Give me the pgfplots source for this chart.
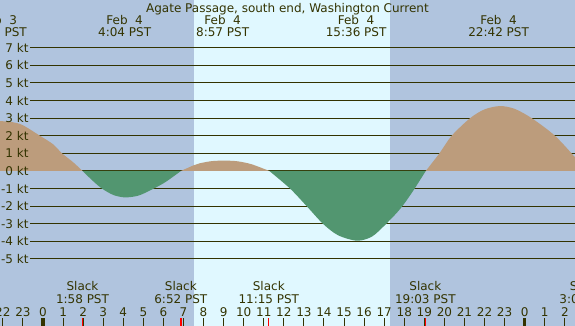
\documentclass[border=0pt]{standalone}
\usepackage{pgfplots}
\pgfplotsset{compat=1.18}
\usepackage{fontspec}
\setmainfont{DejaVu Sans}
\definecolor{night}{RGB}{176,196,222}
\definecolor{day}{RGB}{224,248,255}
\definecolor{flood}{RGB}{188,156,124}
\definecolor{ebb}{RGB}{82,150,112}
\definecolor{ink}{RGB}{51,51,0}
\tikzset{lbl/.style={text=ink, inner sep=0pt, outer sep=0pt, font=\fontsize{12}{12}\selectfont}}
\begin{document}
\fontsize{12}{12}\selectfont
\begin{tikzpicture}
\begin{axis}[
  scale only axis, width=575pt, height=326pt,
  xmin=-2.1425, xmax=26.507, ymin=-8.807, ymax=9.716,
  axis lines=none, clip=true,
]
% backgrounds
\fill[night] (axis cs:-2.1425,-8.807) rectangle (axis cs:26.507,9.716);
\fill[day] (axis cs:7.52,-8.807) rectangle (axis cs:17.29,9.716);
% grid lines
\pgfplotsinvokeforeach{-5,-4,-3,-2,-1,0,1,2,3,4,5,6,7}{
  \draw[ink, line width=1pt] (axis cs:-0.648,#1) -- (axis cs:26.507,#1);
}
% current
\addplot[fill=flood, draw=none, smooth] coordinates {(-2.1425,2.84) (-1.5,2.77) (-1,2.6) (-0.15,2.0) (0.5,1.52) (0.95,1.0) (1.5,0.5) (1.97,0)} \closedcycle;
\addplot[fill=ebb, draw=none, smooth] coordinates {(1.97,0) (2.5,-0.58) (2.94,-1.0) (3.5,-1.36) (4.08,-1.50) (4.75,-1.40) (5.43,-1.05) (6.1,-0.63) (6.87,0)} \closedcycle;
\addplot[fill=flood, draw=none, smooth] coordinates {(6.87,0) (7.52,0.33) (7.82,0.44) (8.4,0.56) (9.05,0.59) (9.7,0.55) (10.4,0.38) (11.28,0)} \closedcycle;
\addplot[fill=ebb, draw=none, smooth] coordinates {(11.28,0) (12.31,-1.0) (13.14,-2.0) (13.95,-3.0) (14.7,-3.65) (15.65,-3.96) (16.4,-3.72) (17.1,-3.0) (17.8,-2.15) (18.4,-1.2) (19.07,0)} \closedcycle;
\addplot[fill=flood, draw=none, smooth] coordinates {(19.07,0) (19.75,1.0) (20.36,2.0) (21.28,3.0) (22.0,3.5) (22.77,3.69) (23.5,3.53) (24.35,3.0) (25.51,2.0) (26.507,0.78)} \closedcycle;
% y labels on top
\pgfplotsinvokeforeach{-5,-4,-3,-2,-1,0,1,2,3,4,5,6,7}{
  \node[lbl, anchor=east] at (axis cs:-0.722,#1) {#1 kt};
}
% title
\node[lbl, anchor=base] at (axis cs:12.18,9.034) {Agate Passage, south end, Washington Current};
% max/min labels
\node[lbl, anchor=base] at (axis cs:-2.20,8.352) {Feb\ \ 3};
\node[lbl, anchor=base] at (axis cs:-2.32,7.670) {21:47 PST};
\node[lbl, anchor=base] at (axis cs:4.067,8.352) {Feb\ \ 4};
\node[lbl, anchor=base] at (axis cs:4.067,7.670) {4:04 PST};
\node[lbl, anchor=base] at (axis cs:8.95,8.352) {Feb\ \ 4};
\node[lbl, anchor=base] at (axis cs:8.95,7.670) {8:57 PST};
\node[lbl, anchor=base] at (axis cs:15.6,8.352) {Feb\ \ 4};
\node[lbl, anchor=base] at (axis cs:15.6,7.670) {15:36 PST};
\node[lbl, anchor=base] at (axis cs:22.7,8.352) {Feb\ \ 4};
\node[lbl, anchor=base] at (axis cs:22.7,7.670) {22:42 PST};
% slack labels
\node[lbl, anchor=base] at (axis cs:1.967,-6.818) {Slack};
\node[lbl, anchor=base] at (axis cs:1.967,-7.557) {1:58 PST};
\node[lbl, anchor=base] at (axis cs:6.867,-6.818) {Slack};
\node[lbl, anchor=base] at (axis cs:6.867,-7.557) {6:52 PST};
\node[lbl, anchor=base] at (axis cs:11.25,-6.818) {Slack};
\node[lbl, anchor=base] at (axis cs:11.25,-7.557) {11:15 PST};
\node[lbl, anchor=base] at (axis cs:19.05,-6.818) {Slack};
\node[lbl, anchor=base] at (axis cs:19.05,-7.557) {19:03 PST};
\node[lbl, anchor=base] at (axis cs:27.05,-6.818) {Slack};
\node[lbl, anchor=base] at (axis cs:27.05,-7.557) {3:03 PST};
% hour ticks
\pgfplotsforeachungrouped \h/\l in {-2/22,-1/23,1/1,2/2,3/3,4/4,5/5,6/6,7/7,8/8,9/9,10/10,11/11,12/12,13/13,14/14,15/15,16/16,17/17,18/18,19/19,20/20,21/21,22/22,23/23,25/1,26/2}{
  \edef\temp{\noexpand\draw[ink, line width=1pt] (axis cs:\h,-8.37) -- (axis cs:\h,-8.807);
    \noexpand\node[lbl, anchor=base] at (axis cs:\h,-8.239) {\l};}
  \temp
}
\draw[ink, line width=3.2pt] (axis cs:0,-8.37) -- (axis cs:0,-8.807);
\node[lbl, anchor=base] at (axis cs:0,-8.239) {0};
\draw[ink, line width=3.2pt] (axis cs:24,-8.37) -- (axis cs:24,-8.807);
\node[lbl, anchor=base] at (axis cs:24,-8.239) {0};
\pgfplotsinvokeforeach{1.967,6.867,11.25,19.05}{
  \draw[red, line width=1.4pt] (axis cs:#1,-8.37) -- (axis cs:#1,-8.807);
}
\end{axis}
\pgfresetboundingbox
\useasboundingbox (current axis.south west) rectangle (current axis.north east);
\end{tikzpicture}
\end{document}
